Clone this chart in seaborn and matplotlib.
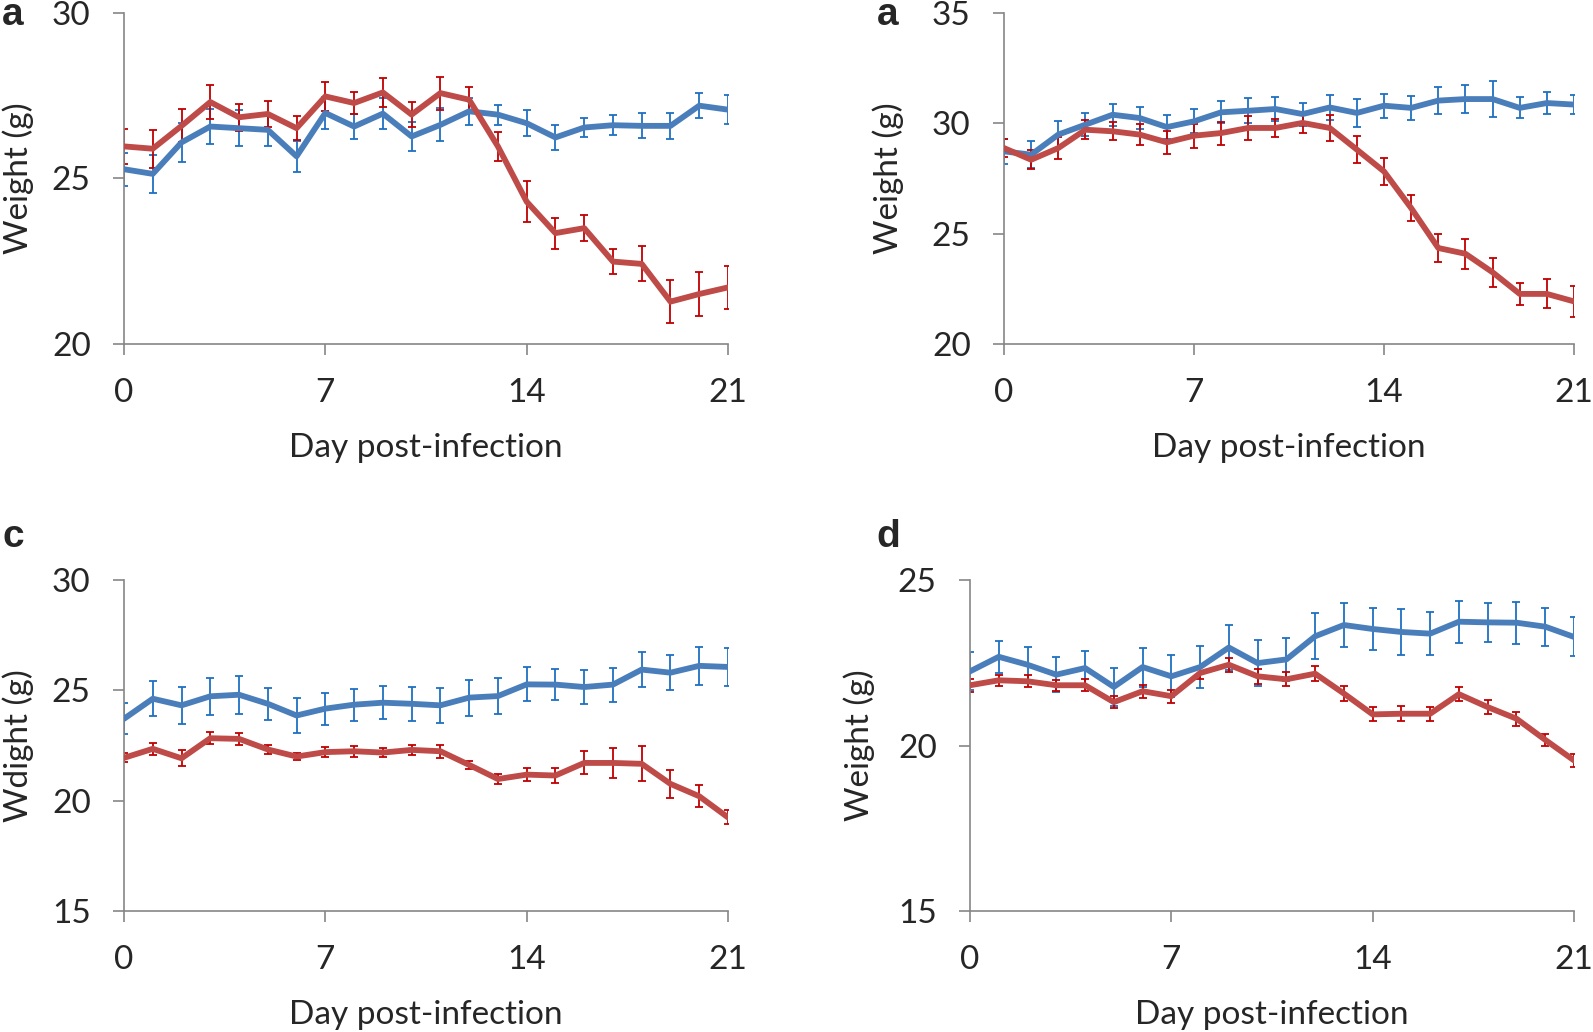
import matplotlib
matplotlib.use("Agg")
import matplotlib.pyplot as plt
import seaborn as sns

# days post-infection
days = list(range(22))

# panel a (top left): blue = control, red = infected
a_blue = [25.28, 25.14, 26.09, 26.57, 26.52, 26.47, 25.67, 26.98, 26.57, 26.96, 26.27,
          26.62, 27.03, 26.93, 26.67, 26.24, 26.54, 26.61, 26.59, 26.59, 27.20, 27.08]
a_blue_err = [0.50, 0.58, 0.60, 0.54, 0.55, 0.48, 0.46, 0.47, 0.37, 0.47, 0.44,
              0.50, 0.41, 0.30, 0.39, 0.38, 0.29, 0.31, 0.38, 0.40, 0.38, 0.44]
a_red = [25.97, 25.90, 26.59, 27.31, 26.85, 26.95, 26.52, 27.48, 27.28, 27.60, 26.93,
         27.58, 27.38, 25.97, 24.30, 23.35, 23.50, 22.49, 22.42, 21.28, 21.51, 21.71]
a_red_err = [0.54, 0.58, 0.50, 0.51, 0.40, 0.40, 0.37, 0.43, 0.33, 0.44, 0.38,
             0.50, 0.38, 0.43, 0.61, 0.47, 0.39, 0.39, 0.53, 0.65, 0.67, 0.66]

# panel b (top right)
b_blue = [28.73, 28.58, 29.49, 29.94, 30.39, 30.24, 29.83, 30.09, 30.50, 30.57, 30.65,
          30.42, 30.72, 30.47, 30.80, 30.70, 31.03, 31.10, 31.10, 30.70, 30.92, 30.85]
b_blue_err = [0.57, 0.60, 0.60, 0.53, 0.49, 0.51, 0.54, 0.54, 0.49, 0.57, 0.55,
              0.52, 0.55, 0.62, 0.54, 0.55, 0.60, 0.64, 0.81, 0.48, 0.49, 0.44]
b_red = [28.88, 28.35, 28.88, 29.71, 29.64, 29.49, 29.14, 29.44, 29.56, 29.79, 29.79,
         30.02, 29.79, 28.81, 27.82, 26.16, 24.35, 24.09, 23.25, 22.27, 22.27, 21.93]
b_red_err = [0.40, 0.42, 0.49, 0.43, 0.40, 0.47, 0.51, 0.54, 0.52, 0.53, 0.42,
             0.46, 0.57, 0.63, 0.60, 0.59, 0.63, 0.69, 0.66, 0.51, 0.66, 0.70]

# panel c (bottom left)
c_blue = [23.71, 24.62, 24.32, 24.73, 24.80, 24.39, 23.86, 24.17, 24.35, 24.44, 24.39,
          24.32, 24.67, 24.74, 25.27, 25.26, 25.15, 25.26, 25.94, 25.80, 26.11, 26.06]
c_blue_err = [0.70, 0.80, 0.85, 0.83, 0.85, 0.73, 0.79, 0.73, 0.72, 0.75, 0.77,
              0.79, 0.82, 0.80, 0.77, 0.70, 0.75, 0.77, 0.80, 0.80, 0.85, 0.86]
c_red = [21.94, 22.35, 21.92, 22.83, 22.80, 22.32, 22.00, 22.20, 22.24, 22.18, 22.30,
         22.24, 21.62, 20.98, 21.18, 21.14, 21.71, 21.71, 21.67, 20.76, 20.20, 19.24]
c_red_err = [0.20, 0.26, 0.36, 0.27, 0.27, 0.20, 0.17, 0.21, 0.24, 0.20, 0.24,
             0.30, 0.20, 0.23, 0.30, 0.36, 0.52, 0.67, 0.79, 0.64, 0.50, 0.32]

# panel d (bottom right)
d_blue = [22.24, 22.68, 22.44, 22.14, 22.34, 21.77, 22.37, 22.09, 22.37, 22.96, 22.49,
          22.60, 23.30, 23.64, 23.52, 23.43, 23.38, 23.74, 23.72, 23.71, 23.59, 23.28]
d_blue_err = [0.57, 0.48, 0.54, 0.52, 0.53, 0.58, 0.59, 0.63, 0.63, 0.67, 0.69,
              0.65, 0.69, 0.66, 0.64, 0.69, 0.64, 0.64, 0.60, 0.64, 0.57, 0.59]
d_red = [21.82, 21.97, 21.94, 21.82, 21.82, 21.31, 21.64, 21.49, 22.19, 22.44, 22.09,
         22.00, 22.17, 21.57, 20.94, 20.96, 20.96, 21.55, 21.16, 20.81, 20.17, 19.55]
d_red_err = [0.19, 0.16, 0.18, 0.17, 0.18, 0.19, 0.20, 0.20, 0.19, 0.21, 0.23,
             0.21, 0.23, 0.22, 0.21, 0.23, 0.21, 0.22, 0.20, 0.21, 0.19, 0.19]

panels = [
    ("a", "Weight (g)", (20, 30), [20, 25, 30], a_blue, a_blue_err, a_red, a_red_err),
    ("a", "Weight (g)", (20, 35), [20, 25, 30, 35], b_blue, b_blue_err, b_red, b_red_err),
    ("c", "Wdight (g)", (15, 30), [15, 20, 25, 30], c_blue, c_blue_err, c_red, c_red_err),
    ("d", "Weight (g)", (15, 25), [15, 20, 25], d_blue, d_blue_err, d_red, d_red_err),
]

W, H = 1593, 1032
# axes boxes in pixels: left, right, top, bottom
boxes = [(124, 728, 13, 344), (1004, 1574, 13, 344),
         (124, 728, 580, 911), (970, 1574, 580, 911)]
# panel letter (left, baseline) and y-label offset (axes fraction)
letter_pos = [(2, 25), (877, 25), (2, 547), (876, 547)]
ylab_x = [-0.149, -0.175, -0.149, -0.157]

sns.set_style("white")
plt.rcParams['font.family'] = ['Lato', 'DejaVu Sans']

blue_line, blue_err = "#4A7EBB", "#1F6FC1"
red_line, red_err = "#BE4B48", "#C00000"
axis_col = "#868686"
fs = 24

fig = plt.figure(figsize=(W / 100, H / 100), dpi=100)

for i, (letter, ylab, ylim, yticks, yb, eb, yr, er) in enumerate(panels):
    l, r, t, b = boxes[i]
    ax = fig.add_axes([l / W, 1 - b / H, (r - l) / W, (b - t) / H])
    ax.errorbar(days, yb, yerr=eb, fmt="none", ecolor=blue_err, elinewidth=1.3, capsize=3, capthick=1.3, zorder=2)
    ax.errorbar(days, yr, yerr=er, fmt="none", ecolor=red_err, elinewidth=1.3, capsize=3, capthick=1.3, zorder=2)
    sns.lineplot(x=days, y=yb, ax=ax, color=blue_line, linewidth=4.2, zorder=3)
    sns.lineplot(x=days, y=yr, ax=ax, color=red_line, linewidth=4.2, zorder=4)
    ax.set_xlim(0, 21)
    ax.set_ylim(*ylim)
    ax.set_xticks([0, 7, 14, 21])
    ax.set_yticks(yticks)
    for s in ["top", "right"]:
        ax.spines[s].set_visible(False)
    for s in ["left", "bottom"]:
        ax.spines[s].set_color(axis_col)
        ax.spines[s].set_linewidth(1.2)
    ax.tick_params(axis="x", direction="out", length=8, width=1.2, color=axis_col, labelsize=fs, pad=16.5, bottom=True)
    ax.tick_params(axis="y", direction="out", length=8, width=1.2, color=axis_col, labelsize=fs, pad=16, left=True)
    ax.set_xlabel("Day post-infection", fontsize=fs, labelpad=18)
    ax.set_ylabel(ylab, fontsize=fs)
    ax.yaxis.set_label_coords(ylab_x[i], 0.5)
    lx, ly = letter_pos[i]
    fig.text(lx / W, 1 - ly / H, letter, fontsize=28, fontweight="bold",
             family="Liberation Sans", ha="left", va="baseline")

fig.savefig("out.png", dpi=100)
